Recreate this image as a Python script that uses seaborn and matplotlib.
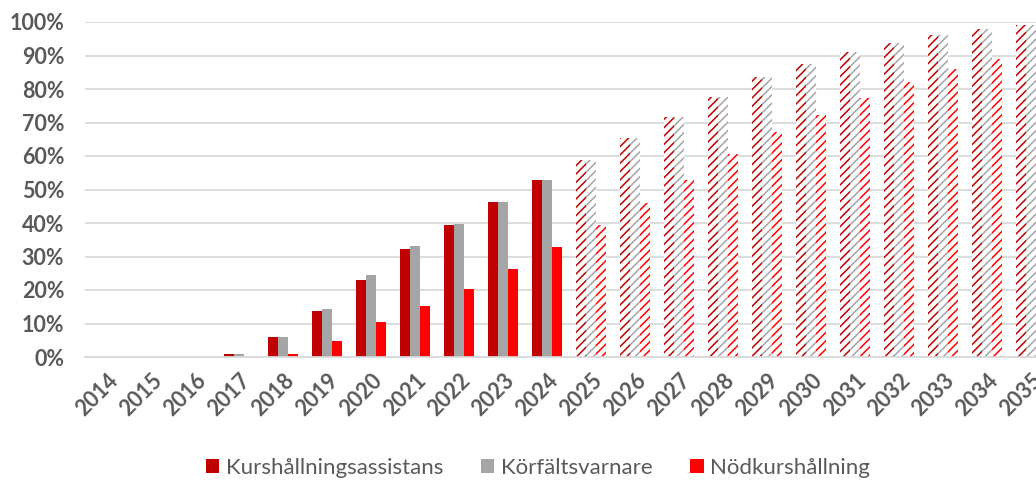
import pandas as pd
import matplotlib
matplotlib.use("Agg")
import matplotlib.pyplot as plt
import seaborn as sns
from matplotlib.ticker import PercentFormatter

# Data (percent)
years = [str(y) for y in range(2014, 2036)]
kurshallning = [0, 0, 0, 0.9, 5.9, 13.7, 23, 32.2, 39.4, 46.4, 52.8,
                58.8, 65.3, 71.5, 77.7, 83.5, 87.5, 90.9, 93.8, 96.1, 97.8, 99.1]
korfalt = [0, 0, 0, 0.9, 5.9, 14.3, 24.4, 33.1, 39.7, 46.4, 52.8,
           58.8, 65.3, 71.5, 77.7, 83.5, 87.5, 90.9, 93.8, 96.1, 97.8, 99.1]
nodkurs = [0, 0, 0, 0, 0.9, 4.8, 10.4, 15.2, 20.3, 26.3, 32.8,
           39.4, 45.9, 52.8, 60.6, 67.1, 72.2, 77.2, 82.0, 85.9, 89.1, 92.1]
first_forecast = "2025"

series = ["Kurshållningsassistans", "Körfältsvarnare", "Nödkurshållning"]
colors = ["#C00000", "#A5A5A5", "#FF0000"]

df = pd.DataFrame({
    "År": years * 3,
    "Serie": [series[0]] * len(years) + [series[1]] * len(years) + [series[2]] * len(years),
    "Andel": kurshallning + korfalt + nodkurs,
})

sns.set_theme(style="white")
plt.rcParams["font.family"] = ["Lato", "DejaVu Sans"]
plt.rcParams["hatch.linewidth"] = 1.1

fig = plt.figure(figsize=(10.36, 4.8), dpi=100)
ax = fig.add_axes([85 / 1036, 123 / 480, 968 / 1036, 335 / 480])

sns.barplot(data=df, x="År", y="Andel", hue="Serie", palette=colors,
            width=0.7, saturation=1, ax=ax, linewidth=0)

# forecast years: white bars with a diagonal hatch in the series colour
start = years.index(first_forecast)
for container, col in zip(ax.containers, colors):
    for i, bar in enumerate(container):
        if i >= start:
            bar.set_facecolor("white")
            bar.set_edgecolor(col)
            bar.set_hatch("////")
            bar.set_linewidth(0)

ax.set_ylim(0, 100)
ax.set_xlim(-0.5, len(years) - 0.5)
ax.set_yticks(range(0, 101, 10))
ax.yaxis.set_major_formatter(PercentFormatter(decimals=0))
ax.grid(axis="y", color="#D9D9D9", linewidth=1.3)
ax.set_axisbelow(True)
for s in ["top", "right", "left"]:
    ax.spines[s].set_visible(False)
ax.spines["bottom"].set_color("#D9D9D9")
ax.spines["bottom"].set_linewidth(1.3)
ax.set_xlabel("")
ax.set_ylabel("")
ax.tick_params(axis="both", length=0, labelsize=15.5, labelcolor="#595959")
ax.tick_params(axis="y", pad=15)
ax.tick_params(axis="x", pad=9)
for lab in ax.get_yticklabels():
    lab.set_fontweight("bold")
for lab in ax.get_xticklabels():
    lab.set_fontweight("bold")
    lab.set_rotation(45)
    lab.set_ha("right")
    lab.set_rotation_mode("anchor")

handles, labels = ax.get_legend_handles_labels()
for h in handles:
    h.set_hatch(None)
leg = ax.legend(handles, labels, loc="center", bbox_to_anchor=(0.468, -0.33),
                ncol=3, frameon=False, fontsize=16, handlelength=0.6,
                handleheight=0.6, handletextpad=0.3, columnspacing=1.7)
for t in leg.get_texts():
    t.set_color("#595959")

fig.savefig("out.png", dpi=100)
